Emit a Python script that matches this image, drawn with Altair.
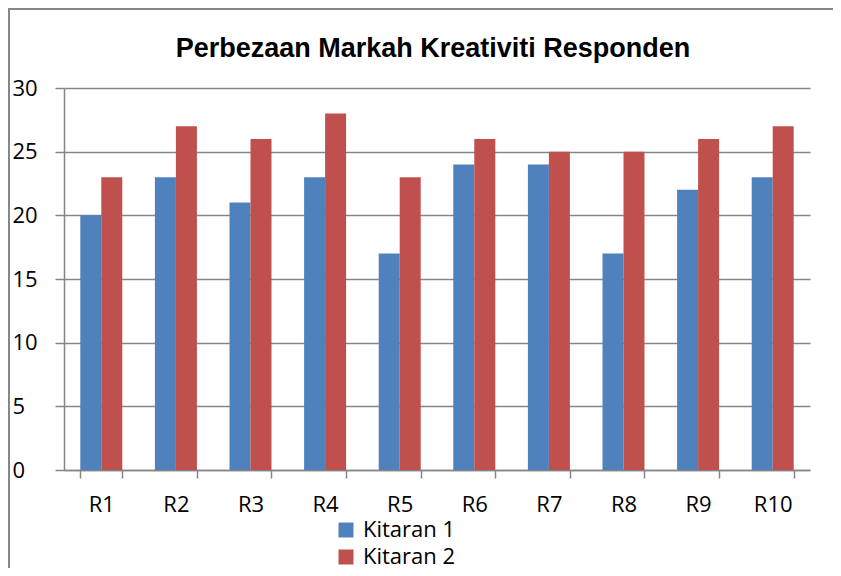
import altair as alt
import pandas as pd

categories = ["R1", "R2", "R3", "R4", "R5", "R6", "R7", "R8", "R9", "R10"]
kitaran1 = [20, 23, 21, 23, 17, 24, 24, 17, 22, 23]
kitaran2 = [23, 27, 26, 28, 23, 26, 25, 25, 26, 27]
series = ["Kitaran 1", "Kitaran 2"]
colors = ["#4F81BD", "#C0504D"]
y_ticks = [0, 5, 10, 15, 20, 25, 30]

rows = []
for c, a, b in zip(categories, kitaran1, kitaran2):
    rows.append({"R": c, "Siri": series[0], "Markah": a})
    rows.append({"R": c, "Siri": series[1], "Markah": b})
df = pd.DataFrame(rows)

AX = "#868686"
FONT = "Open Sans"

bars = alt.Chart(df).mark_bar().encode(
    x=alt.X("R:N", sort=categories,
            scale=alt.Scale(paddingInner=0.437, paddingOuter=0.2185),
            axis=alt.Axis(title=None, labelAngle=0, labelFont=FONT, labelFontSize=22,
                          labelColor="black", labelPadding=16, tickBand="extent",
                          tickSize=8, tickColor=AX, domainColor=AX, domainWidth=1.5,
                          tickWidth=1.5, grid=False)),
    xOffset=alt.XOffset("Siri:N", sort=series, scale=alt.Scale(paddingInner=0, paddingOuter=0)),
    y=alt.Y("Markah:Q", scale=alt.Scale(domain=[0, 30], nice=False),
            axis=alt.Axis(title=None, values=y_ticks, labelFont=FONT, labelFontSize=22,
                          labelColor="black", labelAlign="left", labelPadding=43,
                          labelBaseline="middle", tickSize=9, tickColor=AX, tickWidth=1.5,
                          domainColor=AX, domainWidth=1.5, gridColor=AX, gridWidth=1.5)),
    color=alt.Color("Siri:N", sort=series,
                    scale=alt.Scale(domain=series, range=colors),
                    legend=alt.Legend(title=None, orient="none", legendX=271, legendY=431,
                                      symbolType="square", symbolSize=225, symbolStrokeWidth=0,
                                      labelFont=FONT, labelFontSize=22, labelColor="black",
                                      labelOffset=6, rowPadding=5, padding=0)),
)

frame = alt.Chart(df).mark_rect(fill=None, stroke=AX, strokeWidth=1.5).encode(
    x=alt.value(-55.5), x2=alt.value(900), y=alt.value(-79.5), y2=alt.value(900))

chart = alt.layer(bars, frame).properties(
    width=746, height=382,
    autosize=alt.AutoSizeParams(type="none"),
    padding={"left": 56, "top": 80, "right": 23, "bottom": 98},
    title=alt.TitleParams("Perbezaan Markah Kreativiti Responden", font="Liberation Sans",
                          fontSize=27, fontWeight="bold", color="black", anchor="middle",
                          frame="group", offset=25, dy=80, dx=-4),
).configure_view(stroke=None)

chart.save("out.html", embed_options={"renderer": "svg", "actions": False})
